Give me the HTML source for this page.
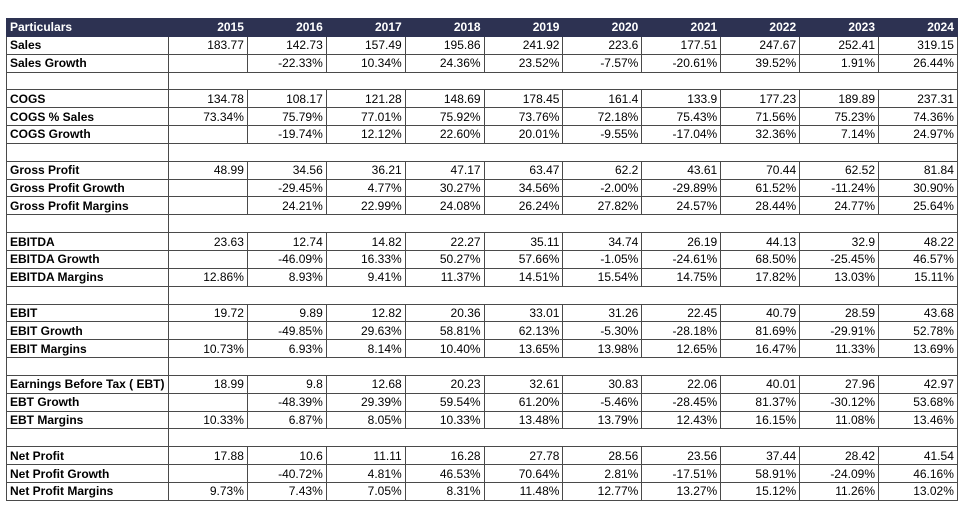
<!DOCTYPE html>
<html><head><meta charset="utf-8">
<style>
body{margin:0;background:#fff;width:966px;height:510px;overflow:hidden;font-family:"Liberation Sans",sans-serif;}
table{position:absolute;left:6px;top:18px;border-collapse:collapse;table-layout:fixed;width:951px;font-size:12px;color:#000;}
td{height:16.85px;padding:0 3px;border:1px solid #4a4a4a;white-space:nowrap;text-align:right;line-height:16px;overflow:hidden;}
td.lab{text-align:left;font-weight:bold;}
tr.hdr td{background:#2d3252;color:#fff;font-weight:bold;border-color:#2d3252;}
</style></head><body>
<table>
<colgroup><col style="width:162px"><col span="10" style="width:78.9px"></colgroup>
<tbody id="tb"></tbody></table>
<script>
const years=["2015","2016","2017","2018","2019","2020","2021","2022","2023","2024"];
const labels=["Sales","Sales Growth",null,"COGS","COGS % Sales","COGS Growth",null,"Gross Profit","Gross Profit Growth","Gross Profit Margins",null,"EBITDA","EBITDA Growth","EBITDA Margins",null,"EBIT","EBIT Growth","EBIT Margins",null,"Earnings Before Tax ( EBT)","EBT Growth","EBT Margins",null,"Net Profit","Net Profit Growth","Net Profit Margins"];
const values=[
["183.77","142.73","157.49","195.86","241.92","223.6","177.51","247.67","252.41","319.15"],
["","-22.33%","10.34%","24.36%","23.52%","-7.57%","-20.61%","39.52%","1.91%","26.44%"],
null,
["134.78","108.17","121.28","148.69","178.45","161.4","133.9","177.23","189.89","237.31"],
["73.34%","75.79%","77.01%","75.92%","73.76%","72.18%","75.43%","71.56%","75.23%","74.36%"],
["","-19.74%","12.12%","22.60%","20.01%","-9.55%","-17.04%","32.36%","7.14%","24.97%"],
null,
["48.99","34.56","36.21","47.17","63.47","62.2","43.61","70.44","62.52","81.84"],
["","-29.45%","4.77%","30.27%","34.56%","-2.00%","-29.89%","61.52%","-11.24%","30.90%"],
["","24.21%","22.99%","24.08%","26.24%","27.82%","24.57%","28.44%","24.77%","25.64%"],
null,
["23.63","12.74","14.82","22.27","35.11","34.74","26.19","44.13","32.9","48.22"],
["","-46.09%","16.33%","50.27%","57.66%","-1.05%","-24.61%","68.50%","-25.45%","46.57%"],
["12.86%","8.93%","9.41%","11.37%","14.51%","15.54%","14.75%","17.82%","13.03%","15.11%"],
null,
["19.72","9.89","12.82","20.36","33.01","31.26","22.45","40.79","28.59","43.68"],
["","-49.85%","29.63%","58.81%","62.13%","-5.30%","-28.18%","81.69%","-29.91%","52.78%"],
["10.73%","6.93%","8.14%","10.40%","13.65%","13.98%","12.65%","16.47%","11.33%","13.69%"],
null,
["18.99","9.8","12.68","20.23","32.61","30.83","22.06","40.01","27.96","42.97"],
["","-48.39%","29.39%","59.54%","61.20%","-5.46%","-28.45%","81.37%","-30.12%","53.68%"],
["10.33%","6.87%","8.05%","10.33%","13.48%","13.79%","12.43%","16.15%","11.08%","13.46%"],
null,
["17.88","10.6","11.11","16.28","27.78","28.56","23.56","37.44","28.42","41.54"],
["","-40.72%","4.81%","46.53%","70.64%","2.81%","-17.51%","58.91%","-24.09%","46.16%"],
["9.73%","7.43%","7.05%","8.31%","11.48%","12.77%","13.27%","15.12%","11.26%","13.02%"]
];
const tb=document.getElementById('tb');
function slug(s){return s.toLowerCase().replace(/[^a-z0-9]+/g,'-').replace(/^-|-$/g,'');}
const hr=document.createElement('tr');hr.className='hdr';


const h0=document.createElement('td');h0.className='lab';h0.textContent='Particulars';


hr.appendChild(h0);
years.forEach(y=>{const c=document.createElement('td');c.textContent=y;


hr.appendChild(c);});
tb.appendChild(hr);
labels.forEach((lab,i)=>{
const tr=document.createElement('tr');
if(lab===null){


const a=document.createElement('td');


const b=document.createElement('td');b.colSpan=10;


tr.appendChild(a);tr.appendChild(b);
}else{


const l=document.createElement('td');l.className='lab';l.textContent=lab;


tr.appendChild(l);
values[i].forEach((v,j)=>{const c=document.createElement('td');c.textContent=v;


tr.appendChild(c);});
}
tb.appendChild(tr);
});
</script>
</body></html>
